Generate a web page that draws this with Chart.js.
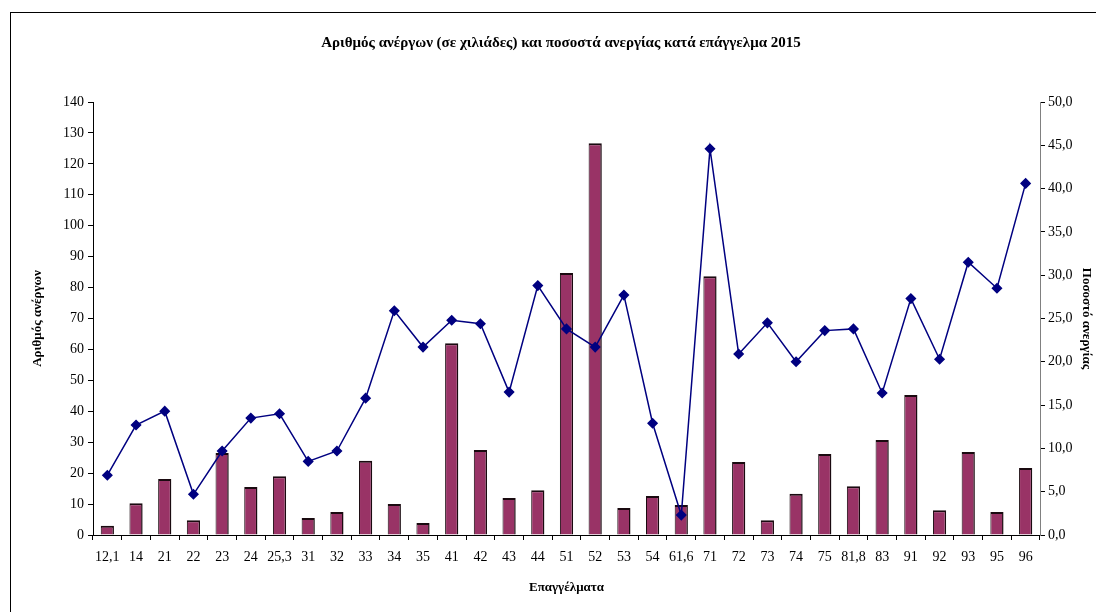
<!DOCTYPE html>
<html lang="el">
<head>
    <meta charset="UTF-8">
    <title>Άνεργοι κατά επάγγελμα 2015</title>
    <script src="https://cdn.jsdelivr.net/npm/chart.js"></script>
    <style>
        html, body { margin: 0; padding: 0; background: #fff; overflow: hidden; }
        #wrap { position: relative; width: 1096px; height: 612px; }
        #frame { position: absolute; left: 10px; top: 12px; width: 1100px; height: 620px; border: 1px solid #000; box-sizing: border-box; pointer-events: none; }
    </style>
</head>
<body>
    <div id="wrap">
        <canvas id="unemployedChart" width="1096" height="612"></canvas>
        <div id="frame"></div>
    </div>

    <script>
        // occupation codes along the x axis
        const occupations = ['12,1', '14', '21', '22', '23', '24', '25,3', '31', '32', '33', '34', '35', '41', '42', '43', '44',
            '51', '52', '53', '54', '61,6', '71', '72', '73', '74', '75', '81,8', '83', '91', '92', '93', '95', '96'];

        // unemployed, thousands (left axis)
        const unemployed = [3, 10.3, 18.1, 4.8, 26.5, 15.5, 19, 5.5, 7.4, 24, 10, 3.9, 62, 27.5, 12, 14.5,
            84.7, 126.7, 8.7, 12.6, 9.7, 83.7, 23.6, 4.8, 13.3, 26.2, 15.8, 30.7, 45.3, 8, 26.8, 7.4, 21.7];

        // unemployment rate, % (right axis)
        const rate = [6.9, 12.7, 14.3, 4.7, 9.7, 13.5, 14.0, 8.5, 9.7, 15.8, 25.9, 21.7, 24.8, 24.4, 16.5, 28.8,
            23.8, 21.7, 27.7, 12.9, 2.3, 44.6, 20.9, 24.5, 20.0, 23.6, 23.8, 16.4, 27.3, 20.3, 31.5, 28.5, 40.6];

        const serif = 'Liberation Serif';

        new Chart(document.getElementById('unemployedChart'), {
            data: {
                labels: occupations,
                datasets: [{
                    type: 'line',
                    label: 'Ποσοστό ανεργίας',
                    data: rate,
                    yAxisID: 'y1',
                    order: 0,
                    borderColor: '#000080',
                    backgroundColor: '#000080',
                    borderWidth: 1.5,
                    tension: 0,
                    pointStyle: 'rectRot',
                    pointRadius: 4.5,
                    pointHoverRadius: 4.5
                }, {
                    type: 'bar',
                    label: 'Αριθμός ανέργων',
                    data: unemployed,
                    yAxisID: 'y',
                    order: 1,
                    backgroundColor: '#993366',
                    borderColor: '#1a0a10',
                    borderWidth: { top: 2, right: 1.5, left: 1, bottom: 0 },
                    borderSkipped: 'bottom',
                    categoryPercentage: 1,
                    barPercentage: 0.46
                }]
            },
            options: {
                responsive: false,
                animation: false,
                layout: { padding: { left: 26, right: 0, top: 0, bottom: 13 } },
                plugins: {
                    legend: { display: false },
                    tooltip: { enabled: false },
                    title: {
                        display: true,
                        text: 'Αριθμός ανέργων (σε χιλιάδες) και ποσοστά ανεργίας κατά επάγγελμα 2015',
                        color: '#000',
                        font: { family: serif, size: 15, weight: 'bold' },
                        padding: { top: 34, bottom: 50 }
                    }
                },
                scales: {
                    x: {
                        offset: true,
                        grid: { display: true, offset: true, drawOnChartArea: false, drawTicks: true, tickLength: 5, color: '#000' },
                        border: { display: true, color: '#000' },
                        ticks: { color: '#000', font: { family: serif, size: 14 }, maxRotation: 0, autoSkip: false, padding: 9 },
                        title: { display: true, text: 'Επαγγέλματα', color: '#000', font: { family: serif, size: 13, weight: 'bold' }, padding: { top: 4 } },
                        afterFit: s => { s.height = 64; }
                    },
                    y: {
                        position: 'left',
                        min: 0,
                        max: 140,
                        ticks: { stepSize: 10, color: '#000', font: { family: serif, size: 14 }, padding: 4 },
                        grid: { drawOnChartArea: false, drawTicks: true, tickLength: 5, color: '#000' },
                        border: { display: true, color: '#000' },
                        title: { display: true, text: 'Αριθμός ανέργων', color: '#000', font: { family: serif, size: 13, weight: 'bold' } },
                        afterFit: s => { s.width = 67; }
                    },
                    y1: {
                        position: 'right',
                        min: 0,
                        max: 50,
                        ticks: {
                            stepSize: 5,
                            color: '#000',
                            font: { family: serif, size: 14 },
                            padding: 3,
                            callback: v => v.toFixed(1).replace('.', ',')
                        },
                        grid: { drawOnChartArea: false, drawTicks: true, tickLength: 5, color: '#000' },
                        border: { display: true, color: '#808080' },
                        title: { display: true, text: 'Ποσοστό ανεργίας', color: '#000', font: { family: serif, size: 13, weight: 'bold' }, padding: 2 },
                        afterFit: s => { s.width = 56; }
                    }
                }
            }
        });
    </script>
</body>
</html>
